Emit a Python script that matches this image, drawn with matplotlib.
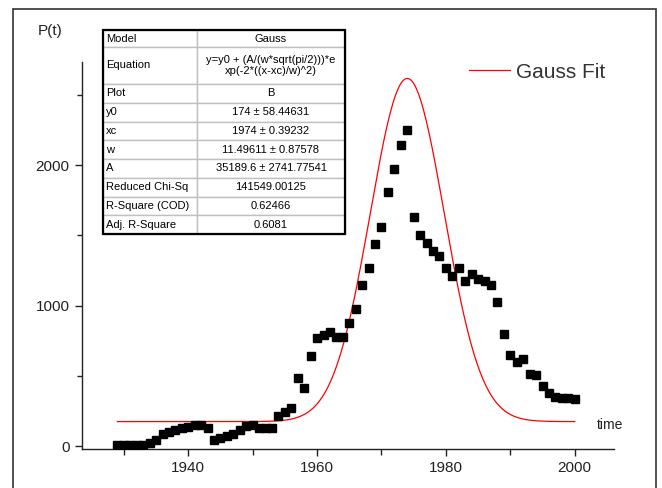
import numpy as np
import matplotlib
matplotlib.use("Agg")
import matplotlib.pyplot as plt
from matplotlib.patches import Rectangle
from matplotlib.ticker import MultipleLocator

plt.rcParams['font.family'] = ['Liberation Sans', 'DejaVu Sans']

years = list(range(1929, 2001))
pt = [5, 5, 5, 5, 8, 20, 45, 85, 100, 115, 125, 135, 150, 150, 125,
      40, 55, 70, 85, 115, 140, 150, 130, 130, 130, 213, 242, 270,
      484, 413, 640, 769, 790, 811, 779, 779, 875, 975, 1146, 1267,
      1441, 1559, 1811, 1972, 2139, 2246, 1630, 1505, 1448, 1388, 1352,
      1270, 1210, 1270, 1178, 1221, 1189, 1174, 1146, 1028, 800, 651,
      598, 623, 512, 509, 427, 377, 349, 342, 342, 335]

# fit parameters (from the table in the chart)
y0 = 174
xc = 1974
w = 11.49611
A = 35189.6

row_labels = ["Model", "Equation", "Plot", "y0", "xc", "w", "A",
              "Reduced Chi-Sq", "R-Square (COD)", "Adj. R-Square"]
row_values = ["Gauss", "y=y0 + (A/(w*sqrt(pi/2)))*e\nxp(-2*((x-xc)/w)^2)", "B",
              "174 \u00b1 58.44631", "1974 \u00b1 0.39232", "11.49611 \u00b1 0.87578",
              "35189.6 \u00b1 2741.77541", "141549.00125", "0.62466", "0.6081"]

W, H = 662, 488
fig = plt.figure(figsize=(W / 100, H / 100), dpi=100)
ax = fig.add_axes([82 / W, 1 - 449 / H, (614 - 82) / W, (449 - 62) / H])

ax.plot(years, pt, ls='none', marker='s', ms=6.3, color='black', zorder=3)

xfit = np.linspace(years[0], years[-1], 300)
yfit = y0 + A / (w * np.sqrt(np.pi / 2)) * np.exp(-2 * ((xfit - xc) / w) ** 2)
ax.plot(xfit, yfit, color='red', lw=0.9, label='Gauss Fit', zorder=2)

ax.set_xlim(1923.5, 2006.1)
ax.set_ylim(-21, 2733)
ax.xaxis.set_major_locator(MultipleLocator(20))
ax.xaxis.set_minor_locator(MultipleLocator(10))
ax.yaxis.set_major_locator(MultipleLocator(1000))
ax.yaxis.set_minor_locator(MultipleLocator(500))
for s in ['top', 'right']:
    ax.spines[s].set_visible(False)
for s in ['left', 'bottom']:
    ax.spines[s].set_linewidth(1.0)
    ax.spines[s].set_color('#222222')
ax.tick_params(which='major', length=5, width=1, colors='#222222', labelsize=11, pad=4)
ax.tick_params(which='minor', length=3.5, width=1, colors='#222222')
ax.tick_params(axis='x', which='minor', length=4)

ax.legend(loc='center left', bbox_to_anchor=(469 / W, 1 - 72 / H), bbox_transform=fig.transFigure,
          frameon=False, fontsize=15, handlelength=1.95, handletextpad=0.3,
          borderpad=0, borderaxespad=0, labelcolor='#333333')

fig.text(38 / W, 1 - 31 / H, "P(t)", fontsize=11, va='center', ha='left', color='#222222')
fig.text(597 / W, 1 - 425 / H, "time", fontsize=10, va='center', ha='left', color='#222222')

# parameter table
tx0, tx1, ty0, ty1 = 103, 345, 30, 234
tab_ax = fig.add_axes([tx0 / W, 1 - ty1 / H, (tx1 - tx0) / W, (ty1 - ty0) / H])
tab_ax.axis('off')
heights = [17, 37] + [18.75] * 8
tab = tab_ax.table(cellText=[[a, b] for a, b in zip(row_labels, row_values)],
                   colWidths=[94, 148], bbox=[0, 0, 1, 1])
tab.auto_set_font_size(False)
for (r, c), cell in tab.get_celld().items():
    cell.set_height(heights[r])
    cell.set_edgecolor('#c0c0c0')
    cell.set_linewidth(1.0)
    cell.get_text().set_fontsize(8)
    cell.get_text().set_color('black')
    if c == 0:
        cell.get_text().set_ha('left')
        cell._loc = 'left'
        cell.PAD = 0.03
    else:
        cell.get_text().set_ha('center')
        cell._loc = 'center'
tab_ax.add_patch(Rectangle((0, 0), 1, 1, transform=tab_ax.transAxes, fill=False,
                           edgecolor='black', lw=1.6, zorder=5, clip_on=False))

# outer frame
fig.patches.append(Rectangle((13 / W, -0.1), (656 - 13) / W, 1.1 - 9 / H,
                             transform=fig.transFigure, fill=False,
                             edgecolor='#333333', lw=1.2))

fig.savefig("out.png", dpi=100)
